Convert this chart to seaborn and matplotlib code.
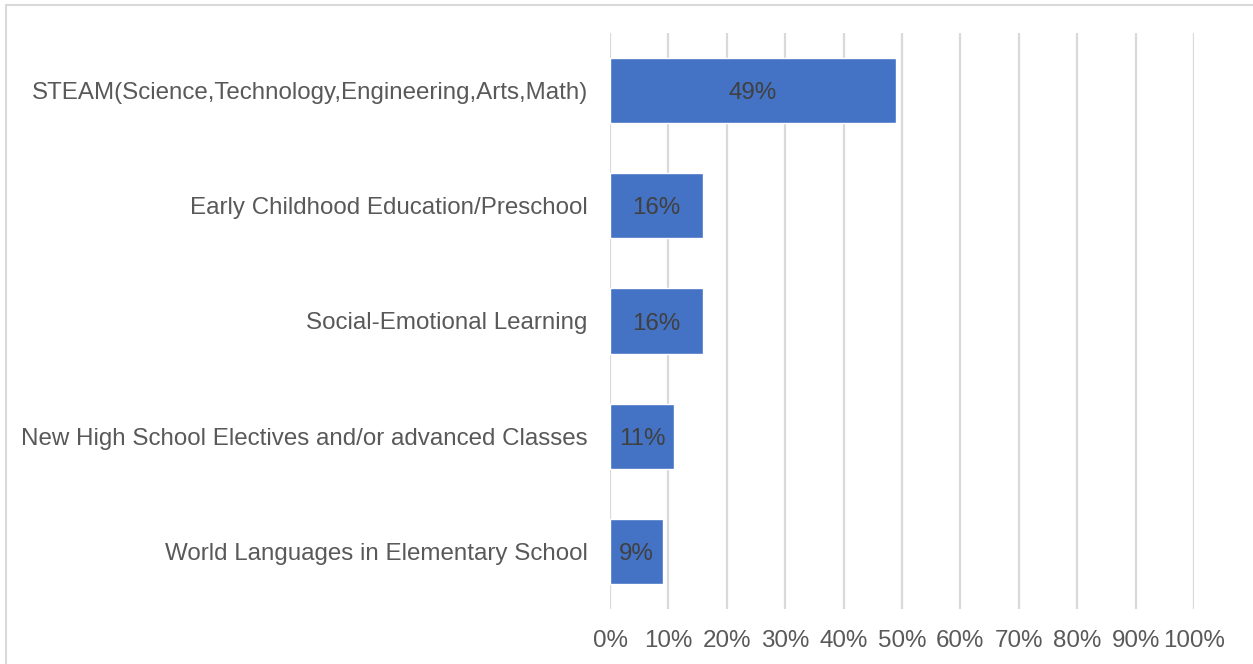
import matplotlib
matplotlib.use("Agg")
import matplotlib.pyplot as plt
import matplotlib.ticker as mticker
from matplotlib.lines import Line2D
import pandas as pd
import seaborn as sns

# Share of respondents choosing each program area
categories = [
    "STEAM(Science,Technology,Engineering,Arts,Math)",
    "Early Childhood Education/Preschool",
    "Social-Emotional Learning",
    "New High School Electives and/or advanced Classes",
    "World Languages in Elementary School",
]
shares = [0.49, 0.16, 0.16, 0.11, 0.09]
x_ticks = [0.0, 0.1, 0.2, 0.3, 0.4, 0.5, 0.6, 0.7, 0.8, 0.9, 1.0]

df = pd.DataFrame({"category": categories, "share": shares})

sns.set_theme(style="white")
plt.rcParams["font.family"] = ["Liberation Sans", "DejaVu Sans"]

W, H = 1253, 664
FS = 17.4
fig = plt.figure(figsize=(W / 100, H / 100), dpi=100)
ax = fig.add_axes([610 / W, 1 - 609 / H, (1194 - 610) / W, (609 - 33) / H])

sns.barplot(data=df, x="share", y="category", orient="h", color="#4472C4",
            saturation=1, width=0.565, ax=ax, zorder=3)

ax.set_xlim(0, 1)
ax.set_ylim(len(categories) - 0.5, -0.5)
ax.set_xticks(x_ticks)
ax.xaxis.set_major_formatter(mticker.FuncFormatter(lambda v, _: f"{v * 100:.0f}%"))
ax.grid(axis="x", color="#d9d9d9", linewidth=1.6, zorder=0)
ax.grid(axis="y", visible=False)
for s in ax.spines.values():
    s.set_visible(False)
ax.set_xlabel("")
ax.set_ylabel("")
ax.tick_params(axis="x", length=0, pad=15, labelsize=FS, labelcolor="#595959")
ax.tick_params(axis="y", length=0, pad=16, labelsize=FS, labelcolor="#595959")

# Value labels centred inside each bar
for i, v in enumerate(shares):
    ax.text(v / 2, i, f"{v * 100:.0f}%", ha="center", va="center_baseline",
            fontsize=FS, color="#404040", zorder=4)

# Chart frame (top and left edges)
fig.add_artist(Line2D([6 / W, 6 / W], [0, 1 - 5 / H], transform=fig.transFigure,
                      color="#d9d9d9", linewidth=1.5))
fig.add_artist(Line2D([6 / W, 1], [1 - 5 / H, 1 - 5 / H], transform=fig.transFigure,
                      color="#d9d9d9", linewidth=1.5))

fig.savefig("out.png", dpi=100, facecolor="white")
